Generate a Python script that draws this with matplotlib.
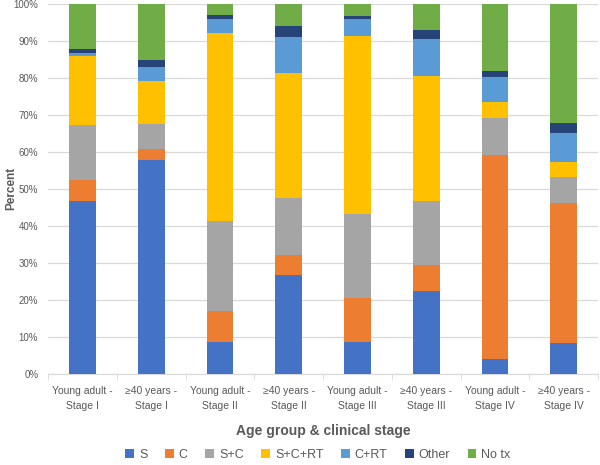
import numpy as np
import matplotlib.pyplot as plt
from matplotlib.ticker import PercentFormatter, FixedLocator

# === DATA ===
groups = ["Young adult -\nStage I", "\u226540 years -\nStage I",
          "Young adult -\nStage II", "\u226540 years -\nStage II",
          "Young adult -\nStage III", "\u226540 years -\nStage III",
          "Young adult -\nStage IV", "\u226540 years -\nStage IV"]

s = [46.6, 57.7, 8.7, 26.8, 8.6, 22.5, 4.0, 8.4]
c = [5.8, 3.1, 8.3, 5.3, 11.9, 7.0, 55.0, 37.7]
s_c = [14.7, 6.6, 24.4, 15.4, 22.7, 17.2, 10.0, 7.1]
s_c_rt = [18.9, 11.6, 50.8, 33.9, 48.1, 33.7, 4.4, 4.0]
c_rt = [0.7, 3.9, 3.7, 9.5, 4.5, 10.2, 6.9, 7.9]
other = [1.0, 2.0, 1.1, 3.0, 0.9, 2.2, 1.5, 2.8]
no_tx = [12.3, 15.1, 3.0, 6.1, 3.3, 7.2, 18.2, 32.1]

series = [("S", s, "#4472C4"), ("C", c, "#ED7D31"), ("S+C", s_c, "#A5A5A5"),
          ("S+C+RT", s_c_rt, "#FFC000"), ("C+RT", c_rt, "#5B9BD5"),
          ("Other", other, "#264478"), ("No tx", no_tx, "#70AD47")]

plt.rcParams["font.family"] = ["Liberation Sans", "DejaVu Sans"]
grey = "#595959"

fig = plt.figure(figsize=(6, 4.65), dpi=100)
ax = fig.add_axes([0.08, 0.196, 0.917, 0.796])

x = np.arange(len(groups))
bottom = np.zeros(len(groups))
for name, vals, col in series:
    ax.bar(x, vals, bottom=bottom, width=0.39, color=col, label=name, zorder=3)
    bottom += np.array(vals)

ax.set_xlim(-0.5, len(groups) - 0.5)
ax.set_ylim(0, 100)
ax.set_yticks(np.arange(0, 101, 10))
ax.yaxis.set_major_formatter(PercentFormatter(decimals=0))
ax.grid(axis="y", color="#D9D9D9", linewidth=0.9, zorder=0)

ax.set_xticks(x)
ax.set_xticklabels(groups, fontsize=7.5, color=grey, linespacing=1.6)
ax.xaxis.set_minor_locator(FixedLocator(np.arange(-0.5, len(groups), 1)))
ax.tick_params(axis="x", which="major", length=0, pad=9)
ax.tick_params(axis="x", which="minor", length=4, color="#D9D9D9")
ax.tick_params(axis="y", length=0, labelsize=7, labelcolor=grey, pad=7)

for sp in ["top", "right", "left"]:
    ax.spines[sp].set_visible(False)
ax.spines["bottom"].set_color("#D9D9D9")

ax.set_xlabel("Age group & clinical stage", fontsize=10, fontweight="bold",
              color=grey, labelpad=9)
ax.set_ylabel("Percent", fontsize=8.5, fontweight="bold", color=grey)
ax.yaxis.set_label_coords(-0.056, 0.5)

fig.legend(loc="lower center", bbox_to_anchor=(0.53, -0.016), ncol=7, frameon=False,
           fontsize=9, handlelength=0.7, handleheight=0.7, handletextpad=0.4,
           columnspacing=1.4, labelcolor=grey)

fig.savefig("out.png", dpi=100)
